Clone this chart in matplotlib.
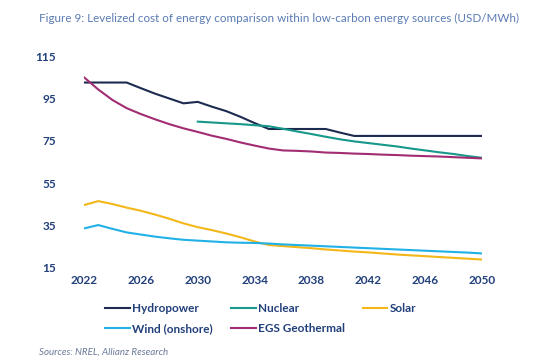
import numpy as np
import matplotlib.pyplot as plt

plt.rcParams['font.family'] = ['Lato', 'DejaVu Sans']

years = list(range(2022, 2051))
nuclear_years = list(range(2030, 2051))

hydropower = [102.8, 102.8, 102.8, 102.8, 100.1, 97.5, 95.2, 92.9, 93.6, 91.3,
              89.2, 86.5, 83.5, 80.7, 80.7, 80.7, 80.7, 80.7, 79.0, 77.4,
              77.4, 77.4, 77.4, 77.4, 77.4, 77.4, 77.4, 77.4, 77.4]
nuclear = [84.2, 83.8, 83.4, 83.0, 82.5, 82.0, 80.8, 79.5, 78.3, 77.0,
           75.8, 74.8, 74.0, 73.2, 72.4, 71.4, 70.5, 69.6, 68.8, 67.8, 67.0]
solar = [44.5, 46.4, 45.0, 43.3, 41.8, 40.0, 38.0, 35.8, 34.0, 32.6,
         31.0, 29.2, 27.2, 25.5, 25.0, 24.5, 24.0, 23.4, 22.9, 22.4,
         22.0, 21.5, 21.0, 20.6, 20.2, 19.8, 19.4, 19.0, 18.6]
wind = [33.4, 35.0, 33.2, 31.5, 30.5, 29.5, 28.7, 28.0, 27.6, 27.2,
        26.8, 26.6, 26.5, 26.2, 25.8, 25.5, 25.2, 24.9, 24.6, 24.3,
        24.0, 23.7, 23.4, 23.1, 22.8, 22.5, 22.2, 21.9, 21.5]
egs = [105.3, 99.5, 94.5, 90.6, 87.8, 85.3, 83.0, 81.0, 79.3, 77.5,
       76.0, 74.3, 72.8, 71.4, 70.5, 70.3, 70.0, 69.5, 69.3, 69.0,
       68.8, 68.5, 68.3, 68.0, 67.8, 67.6, 67.3, 67.0, 66.7]

xticks = list(range(2022, 2051, 4))
yticks = [15, 35, 55, 75, 95, 115]

c_hydro = '#1c2b4f'
c_nuc = '#17988a'
c_solar = '#f4b71a'
c_wind = '#21b1e6'
c_egs = '#a22c72'
tick_col = '#213f7a'

fig = plt.figure(figsize=(5.6, 3.6), dpi=100)
ax = fig.add_axes([0.15, 0.258, 0.711, 0.584])

lw = 1.5
h1, = ax.plot(years, hydropower, color=c_hydro, lw=lw, label='Hydropower')
h2, = ax.plot(nuclear_years, nuclear, color=c_nuc, lw=lw, label='Nuclear')
h3, = ax.plot(years, solar, color=c_solar, lw=lw, label='Solar')
h4, = ax.plot(years, wind, color=c_wind, lw=lw, label='Wind (onshore)')
h5, = ax.plot(years, egs, color=c_egs, lw=lw, label='EGS Geothermal')

ax.set_xlim(2022, 2050)
ax.set_ylim(15, 115)
ax.set_xticks(xticks)
ax.set_yticks(yticks)
for s in ax.spines.values():
    s.set_visible(False)
ax.tick_params(length=0, labelsize=8.5, labelcolor=tick_col, pad=6)
for lab in ax.get_xticklabels() + ax.get_yticklabels():
    lab.set_fontweight('bold')
ax.tick_params(axis='y', pad=20)

fig.text(0.07, 0.95, 'Figure 9: Levelized cost of energy comparison within low-carbon energy sources (USD/MWh)',
         fontsize=8.4, color='#5a7bb3', ha='left', va='center')
fig.text(0.07, 0.022, 'Sources: NREL, Allianz Research', fontsize=7, color='#6a7a99',
         style='italic', ha='left', va='center')

leg = fig.legend([h1, h4, h2, h5, h3],
                 ['Hydropower', 'Wind (onshore)', 'Nuclear', 'EGS Geothermal', 'Solar'],
                 ncol=3, loc='upper left', bbox_to_anchor=(0.188, 0.158),
                 frameon=False, fontsize=8.5, handlelength=2.1, handletextpad=0.2,
                 columnspacing=1.5, labelspacing=0.75, borderaxespad=0, borderpad=0)
for t in leg.get_texts():
    t.set_color(tick_col)
    t.set_fontweight('bold')

fig.savefig('out.png', dpi=100)
